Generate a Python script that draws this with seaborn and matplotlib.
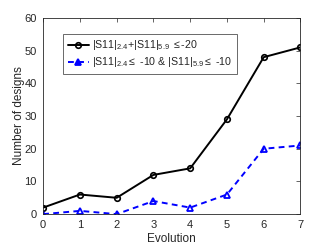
import matplotlib
matplotlib.use("Agg")
import matplotlib.pyplot as plt
import seaborn as sns
import pandas as pd

evolution = [0, 1, 2, 3, 4, 5, 6, 7]
both_below_20 = [2, 6, 5, 12, 14, 29, 48, 51]
each_below_10 = [0, 1, 0, 4, 2, 6, 20, 21]

label_a = r"|S11|$_{2.4}$+|S11|$_{5.9}$ $\leq$-20"
label_b = r"|S11|$_{2.4}$$\leq$ -10 & |S11|$_{5.9}$$\leq$ -10"

df = pd.DataFrame({"evolution": evolution, "a": both_below_20, "b": each_below_10})

sns.set_style("white")
plt.rcParams["font.family"] = ["Liberation Sans", "DejaVu Sans"]
plt.rcParams["mathtext.fontset"] = "custom"
plt.rcParams["mathtext.rm"] = "Liberation Sans"
plt.rcParams["mathtext.it"] = "Liberation Sans"

fig, ax = plt.subplots(figsize=(3.32, 2.49), dpi=100)
fig.subplots_adjust(left=0.13, right=0.905, top=0.928, bottom=0.14)

sns.lineplot(data=df, x="evolution", y="a", ax=ax, color="black", lw=1.4,
             marker="o", markersize=4, markerfacecolor="none",
             markeredgecolor="black", markeredgewidth=1.2, label=label_a)
sns.lineplot(data=df, x="evolution", y="b", ax=ax, color="blue", lw=1.4,
             linestyle=(0, (3, 2.2)), marker="^", markersize=4.5,
             markerfacecolor="none", markeredgecolor="blue",
             markeredgewidth=1.3, label=label_b)

ax.set_xlim(0, 7)
ax.set_ylim(0, 60)
ax.set_xticks(range(0, 8))
ax.set_yticks(range(0, 61, 10))
ax.set_xlabel("Evolution", fontsize=8.5, color="#262626", labelpad=2)
ax.set_ylabel("Number of designs", fontsize=8.5, color="#262626", labelpad=0)
ax.tick_params(direction="in", length=3, width=0.5, labelsize=8, colors="#262626",
               top=True, right=True, pad=4.5)
for s in ax.spines.values():
    s.set_linewidth(0.6)
    s.set_color("#262626")

leg = ax.legend(loc="upper left", bbox_to_anchor=(0.078, 0.918), fontsize=7.7,
                frameon=True, fancybox=False, handlelength=2.0, borderpad=0.4,
                labelspacing=0.28, handletextpad=0.3, borderaxespad=0)
leg.get_frame().set_edgecolor("#262626")
leg.get_frame().set_linewidth(0.6)
for h in leg.legend_handles:
    if h.get_color() == "blue":
        h.set_markerfacecolor("blue")

fig.savefig("out.png", dpi=100)
